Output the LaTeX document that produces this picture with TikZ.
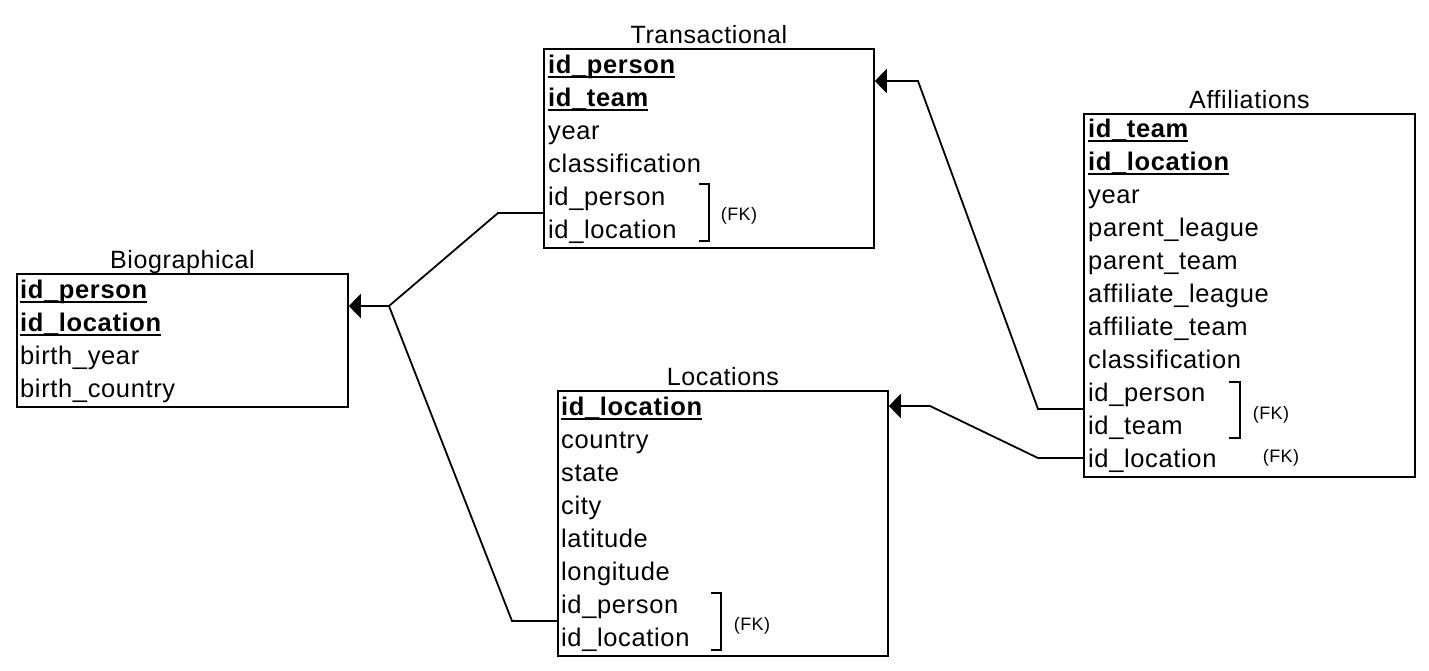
\documentclass[tikz,border=0pt]{standalone}
\usepackage{fontspec}
\setmainfont{Liberation Sans}[LetterSpace=2.5]
\usetikzlibrary{arrows.meta}
\newcommand\pkey[1]{\setbox0\hbox{\bfseries #1}\rlap{\rule[-4.5pt]{\wd0}{1.8pt}}\box0}
\begin{document}
\begin{tikzpicture}[x=1pt,y=-1pt,
  tbl/.style={draw, line width=1.8pt, rectangle, inner sep=0pt, anchor=north west},
  ttl/.style={font=\fontsize{25}{30}\selectfont, anchor=base, inner sep=0pt},
  row/.style={font=\fontsize{25.5}{30}\selectfont, anchor=base west, inner sep=0pt},
  fk/.style={font=\fontsize{18}{21}\selectfont, anchor=center, inner sep=0pt},
  brk/.style={line width=1.8pt},
  conn/.style={line width=1.8pt},
  arr/.style={-{Triangle[length=12pt,width=24pt]}}]
\useasboundingbox[fill=white] (0,0) rectangle (1429,670);

% Tables
\node[tbl, minimum width=331pt, minimum height=133pt] (bio) at (16,273) {};
\node[tbl, minimum width=330pt, minimum height=199pt] (trans) at (543,48) {};
\node[tbl, minimum width=330pt, minimum height=265pt] (loc) at (557,390) {};
\node[tbl, minimum width=331pt, minimum height=363pt] (aff) at (1083,113) {};

% Titles
\node[ttl] (bio-t) at (bio.north |- 0,268) {Biographical};
\node[ttl] (trans-t) at (trans.north |- 0,43) {Transactional};
\node[ttl] (loc-t) at (loc.north |- 0,385) {Locations};
\node[ttl] (aff-t) at (aff.north |- 0,108) {Affiliations};

% Rows
\foreach \t [count=\i from 0] in {{\pkey{id\_person}},{\pkey{id\_location}},birth\_year,birth\_country}
  \node[row] (bio-\i) at (20,298+33*\i) {\t};
\foreach \t [count=\i from 0] in {{\pkey{id\_person}},{\pkey{id\_team}},year,classification,id\_person,id\_location}
  \node[row] (trans-\i) at (548,73+33*\i) {\t};
\foreach \t [count=\i from 0] in {{\pkey{id\_location}},country,state,city,latitude,longitude,id\_person,id\_location}
  \node[row] (loc-\i) at (561,415+33*\i) {\t};
\foreach \t [count=\i from 0] in {{\pkey{id\_team}},{\pkey{id\_location}},year,parent\_league,parent\_team,affiliate\_league,affiliate\_team,classification,id\_person,id\_team,id\_location}
  \node[row] (aff-\i) at (1088,137+33*\i) {\t};

% Brackets and FK labels
\draw[brk] (699,184) -- (709,184) -- (709,241) -- (699,241);
\node[fk] (trans-fk) at (739,216) {(FK)};
\draw[brk] (711,593) -- (721,593) -- (721,650) -- (711,650);
\node[fk] (loc-fk) at (752,626) {(FK)};
\draw[brk] (1229,382) -- (1240,382) -- (1240,438) -- (1229,438);
\node[fk] (aff-fk1) at (1271,415) {(FK)};
\node[fk] (aff-fk2) at (1281,458) {(FK)};

% Junction / bend coordinates
\coordinate (j1) at (389,306);
\coordinate (tA) at (498,213);
\coordinate (lA) at (512,621);
\coordinate (aA) at (1038,409);
\coordinate (aB) at (918,81);
\coordinate (aC) at (1038,458);
\coordinate (aD) at (930,406);

% Connectors
\draw[conn] (trans.west |- tA) -- (tA) -- (j1);
\draw[conn, arr] (loc.west |- lA) -- (lA) -- (j1) -- (bio.east |- j1);
\draw[conn, arr] (aff.west |- aA) -- (aA) -- (aB) -- (trans.east |- aB);
\draw[conn, arr] (aff.west |- aC) -- (aC) -- (aD) -- (loc.east |- aD);
\end{tikzpicture}
\end{document}
